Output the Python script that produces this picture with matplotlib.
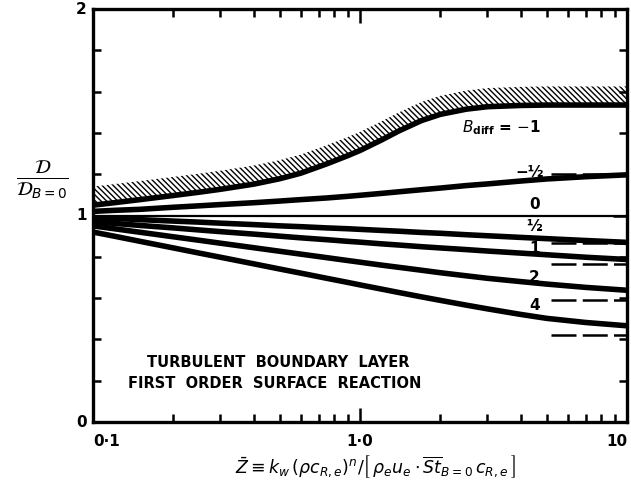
import numpy as np
import matplotlib
matplotlib.use("Agg")
import matplotlib.pyplot as plt

# valores
z = [0.1, 0.12, 0.15, 0.2, 0.25, 0.3, 0.4, 0.5, 0.6, 0.75, 0.9, 1.0,
     1.2, 1.4, 1.7, 2.0, 2.5, 3.0, 4.0, 5.0, 7.0, 10.0]

d_m1 = [1.05, 1.062, 1.077, 1.097, 1.113, 1.127, 1.152, 1.178, 1.205, 1.25, 1.29, 1.315,
        1.365, 1.41, 1.46, 1.49, 1.515, 1.527, 1.533, 1.535, 1.535, 1.535]
banda_topo = [1.14, 1.152, 1.167, 1.187, 1.203, 1.217, 1.242, 1.268, 1.295, 1.34, 1.38, 1.405,
              1.455, 1.50, 1.55, 1.58, 1.605, 1.617, 1.623, 1.625, 1.625, 1.625]
d_m05 = [1.02, 1.025, 1.03, 1.04, 1.047, 1.053, 1.062, 1.07, 1.077, 1.085, 1.093, 1.098,
         1.107, 1.115, 1.125, 1.133, 1.145, 1.153, 1.167, 1.177, 1.188, 1.197]
d_0 = [1.0] * len(z)
d_05 = [0.99, 0.986, 0.98, 0.973, 0.968, 0.963, 0.956, 0.95, 0.946, 0.94, 0.936, 0.933,
        0.928, 0.924, 0.918, 0.914, 0.907, 0.902, 0.894, 0.888, 0.879, 0.87]
d_1 = [0.97, 0.962, 0.952, 0.94, 0.93, 0.922, 0.91, 0.90, 0.892, 0.883, 0.875, 0.871,
       0.863, 0.857, 0.849, 0.843, 0.835, 0.828, 0.818, 0.81, 0.798, 0.787]
d_2 = [0.95, 0.936, 0.919, 0.897, 0.88, 0.866, 0.844, 0.827, 0.813, 0.796, 0.782, 0.774,
       0.76, 0.749, 0.735, 0.723, 0.708, 0.696, 0.68, 0.668, 0.652, 0.638]
d_4 = [0.92, 0.90, 0.875, 0.843, 0.818, 0.798, 0.766, 0.741, 0.721, 0.696, 0.676, 0.664,
       0.644, 0.627, 0.606, 0.589, 0.566, 0.548, 0.521, 0.502, 0.482, 0.466]

# assimptotas (tracejado)
z_assim = [5.2, 10.0]
assimptotas = {"-1/2": 1.20, "1/2": 0.865, "1": 0.763, "2": 0.593, "4": 0.42}

rotulos = ["0·1", "1·0", "10"]

plt.rcParams['hatch.linewidth'] = 1.0
fig = plt.figure(figsize=(6.31, 4.80), dpi=100)
ax = fig.add_axes([0.1474, 0.1208, 0.8463, 0.8604])

ax.fill_between(z, d_m1, banda_topo, facecolor='none', edgecolor='black',
                hatch='\\\\\\\\\\\\', linewidth=0)

lw = 4.0
ax.plot(z, d_m1, color='black', lw=lw, solid_capstyle='butt')
ax.plot(z, d_m05, color='black', lw=lw, solid_capstyle='butt')
ax.plot(z, d_0, color='black', lw=1.6, solid_capstyle='butt')
ax.plot(z, d_05, color='black', lw=lw, solid_capstyle='butt')
ax.plot(z, d_1, color='black', lw=lw, solid_capstyle='butt')
ax.plot(z, d_2, color='black', lw=lw, solid_capstyle='butt')
ax.plot(z, d_4, color='black', lw=lw, solid_capstyle='butt')

for nome, valor in assimptotas.items():
    ax.plot(z_assim, [valor, valor], color='black', lw=1.8, dashes=(10, 2.5))

ax.set_xscale('log')
ax.set_xlim(0.1, 10)
ax.set_ylim(0, 2)

ax.set_xticks([0.1, 1, 10])
ax.set_xticklabels([])
ax.set_yticks([0, 1, 2])
ax.set_yticklabels([])
ax.set_yticks(np.arange(0.2, 2.0, 0.2), minor=True)
ax.tick_params(which='both', direction='in', top=True, right=True, width=1.8)
ax.tick_params(which='major', length=10)
ax.tick_params(which='minor', length=6)
for s in ax.spines.values():
    s.set_linewidth(2.4)

fonte = dict(fontweight='bold', fontsize=11, color='black')
for v, t in zip([0, 1, 2], ["0", "1", "2"]):
    ax.text(-0.012, v, t, transform=ax.get_yaxis_transform(), ha='right', va='center', **fonte)
ax.text(0.1, -0.03, rotulos[0], transform=ax.get_xaxis_transform(), ha='left', va='top', **fonte)
ax.text(1.0, -0.03, rotulos[1], transform=ax.get_xaxis_transform(), ha='center', va='top', **fonte)
ax.text(10.0, -0.03, rotulos[2], transform=ax.get_xaxis_transform(), ha='right', va='top', **fonte)

# rótulos das curvas
ax.text(3.4, 1.425, r'$B_{\mathbf{diff}}$ = $-$1', ha='center', va='center', fontsize=11, fontweight='bold')
ax.text(4.3, 1.21, "−½", ha='center', va='center', fontsize=11, fontweight='bold')
ax.text(4.5, 1.055, "0", ha='center', va='center', fontsize=11, fontweight='bold')
ax.text(4.5, 0.945, "½", ha='center', va='center', fontsize=11, fontweight='bold')
ax.text(4.5, 0.84, "1", ha='center', va='center', fontsize=11, fontweight='bold')
ax.text(4.5, 0.70, "2", ha='center', va='center', fontsize=11, fontweight='bold')
ax.text(4.5, 0.565, "4", ha='center', va='center', fontsize=11, fontweight='bold')

ax.text(0.346, 0.145, "TURBULENT  BOUNDARY  LAYER", transform=ax.transAxes,
        ha='center', va='center', fontsize=10.5, fontweight='bold')
ax.text(0.34, 0.094, "FIRST  ORDER  SURFACE  REACTION", transform=ax.transAxes,
        ha='center', va='center', fontsize=10.5, fontweight='bold')

fig.text(0.068, 0.625, r'$\frac{\mathcal{D}}{\mathcal{D}_{B=0}}$', ha='center', va='center', fontsize=20)
fig.text(0.595, 0.028,
         r'$\bar{Z} \equiv k_w\,(\rho c_{R,e})^n / \left[\,\rho_e u_e \cdot \overline{St}_{B=0}\,c_{R,e}\,\right]$',
         ha='center', va='center', fontsize=12.5)

fig.savefig("out.png", dpi=100)
